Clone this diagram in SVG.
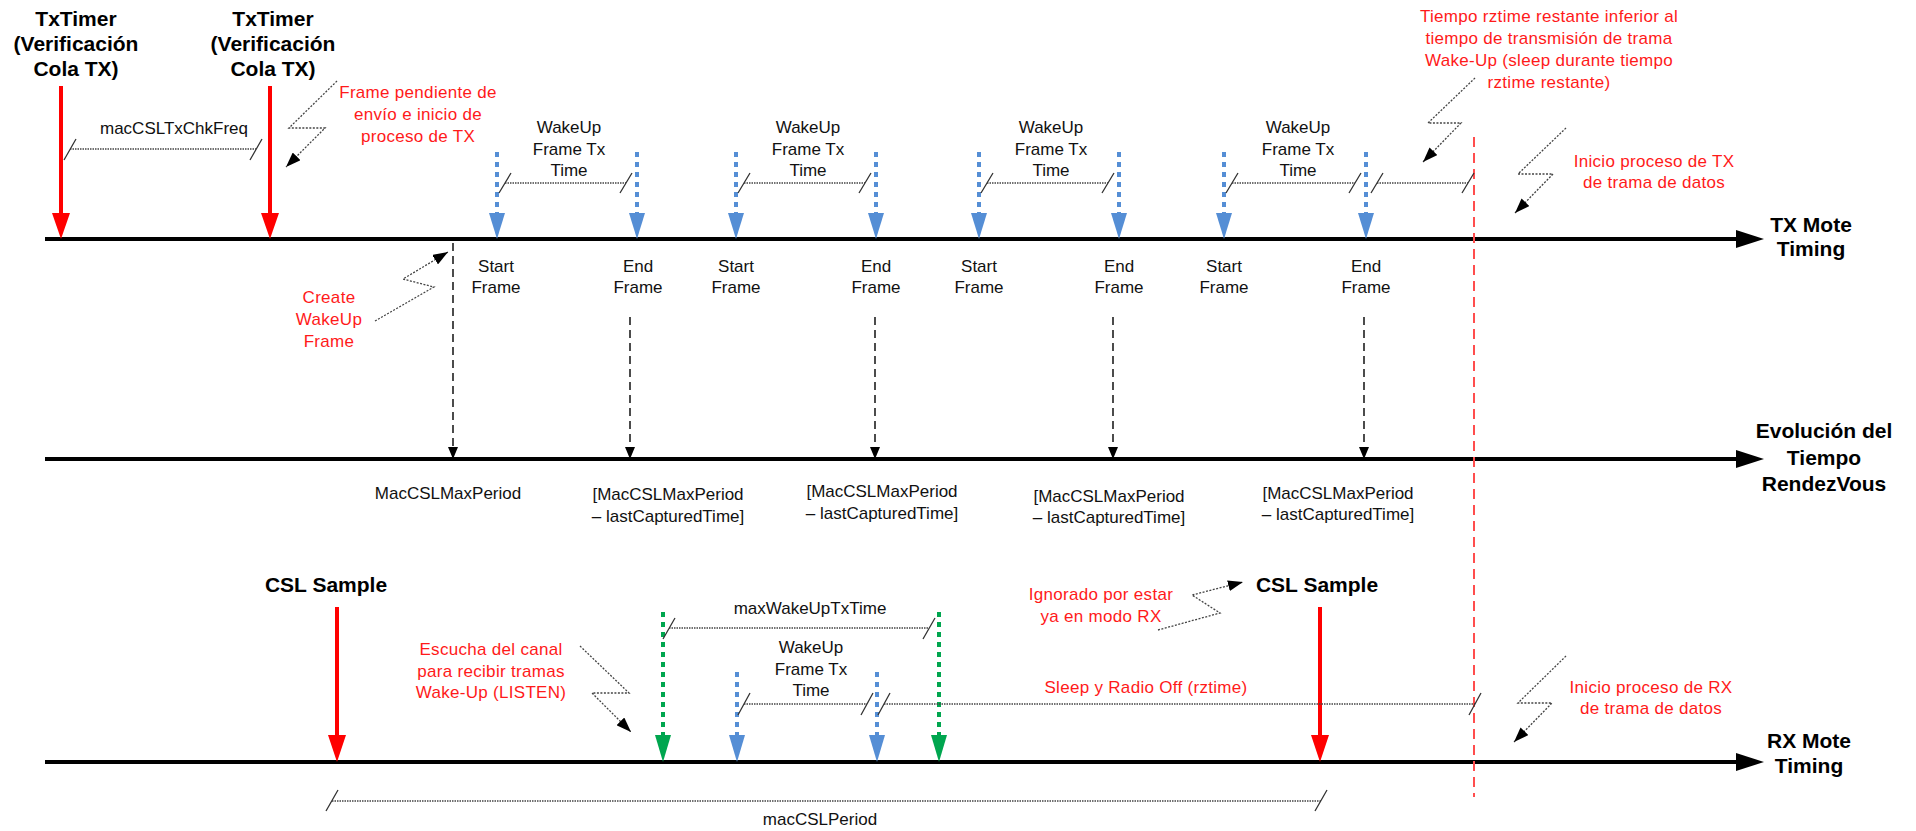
<svg xmlns="http://www.w3.org/2000/svg" width="1916" height="831" viewBox="0 0 1916 831">
  <style>
    text { font-family: "Liberation Sans", Arial, sans-serif; text-anchor: middle; }
    .bold { font-weight: bold; font-size: 21px; fill: #000; }
    .lbl { font-size: 17px; fill: #111; }
    .note { font-size: 17px; fill: #ff1a1a; letter-spacing: 0.3px; }
    .axis { stroke: #000; stroke-width: 4; fill: none; }
    .axhead { fill: #000; }
    .red { stroke: #ff0000; stroke-width: 4; fill: none; }
    .redhead { fill: #ff0000; }
    .blue { stroke: #558ed5; stroke-width: 4; stroke-dasharray: 5 5; fill: none; }
    .bluehead { fill: #558ed5; }
    .green { stroke: #00a64f; stroke-width: 4; stroke-dasharray: 5 5; fill: none; }
    .greenhead { fill: #00a64f; }
    .dim { stroke: #444; stroke-width: 1.3; stroke-dasharray: 1.5 1; fill: none; }
    .tick { stroke: #333; stroke-width: 1.3; fill: none; }
    .bolt { stroke: #444; stroke-width: 1.3; stroke-dasharray: 2 1.5; fill: none; marker-end: url(#boltHead); }
    .drop { stroke: #000; stroke-width: 1.4; stroke-dasharray: 8 5; fill: none; marker-end: url(#dropHead); }
    .limit { stroke: #ff4d4d; stroke-width: 2; stroke-dasharray: 10 6; fill: none; }
  </style>
  <defs>
    <marker id="boltHead" markerUnits="userSpaceOnUse" markerWidth="15" markerHeight="11" refX="15" refY="5.5" orient="auto">
      <path d="M0,0 L15,5.5 L0,11 z" fill="#000"/>
    </marker>
    <marker id="dropHead" markerUnits="userSpaceOnUse" markerWidth="12" markerHeight="10" refX="12" refY="5" orient="auto">
      <path d="M0,0 L12,5 L0,10 z" fill="#000"/>
    </marker>
  </defs>

  <rect width="1916" height="831" fill="#fff"/>

  <!-- time axes -->
  <g id="axis-tx">
    <line class="axis" x1="45" y1="239" x2="1742" y2="239"/>
    <polygon class="axhead" points="1736,230 1764,239 1736,248"/>
    <text class="bold" x="1811" y="232">TX Mote</text>
    <text class="bold" x="1811" y="256">Timing</text>
  </g>
  <g id="axis-rendezvous">
    <line class="axis" x1="45" y1="459" x2="1742" y2="459"/>
    <polygon class="axhead" points="1736,450 1764,459 1736,468"/>
    <text class="bold" x="1824" y="438">Evolución del</text>
    <text class="bold" x="1824" y="465">Tiempo</text>
    <text class="bold" x="1824" y="491">RendezVous</text>
  </g>
  <g id="axis-rx">
    <line class="axis" x1="45" y1="762" x2="1742" y2="762"/>
    <polygon class="axhead" points="1736,753 1764,762 1736,771"/>
    <text class="bold" x="1809" y="748">RX Mote</text>
    <text class="bold" x="1809" y="773">Timing</text>
  </g>

  <!-- TX timer checks -->
  <g id="txtimer-1">
    <line class="red" x1="61" y1="86" x2="61" y2="215"/>
    <polygon class="redhead" points="52,213 70,213 61,239"/>
    <text class="bold" x="76" y="26">TxTimer</text>
    <text class="bold" x="76" y="51">(Verificación</text>
    <text class="bold" x="76" y="76">Cola TX)</text>
  </g>
  <g id="txtimer-2">
    <line class="red" x1="270" y1="86" x2="270" y2="215"/>
    <polygon class="redhead" points="261,213 279,213 270,239"/>
    <text class="bold" x="273" y="26">TxTimer</text>
    <text class="bold" x="273" y="51">(Verificación</text>
    <text class="bold" x="273" y="76">Cola TX)</text>
  </g>

  <!-- wake-up frames sent by the TX mote -->
  <g id="tx-frame-1">
    <line class="blue" x1="497" y1="152" x2="497" y2="214"/>
    <polygon class="bluehead" points="489,213 505,213 497,239"/>
    <line class="blue" x1="637" y1="152" x2="637" y2="214"/>
    <polygon class="bluehead" points="629,213 645,213 637,239"/>
    <text class="lbl" x="569" y="133">WakeUp</text>
    <text class="lbl" x="569" y="155">Frame Tx</text>
    <text class="lbl" x="569" y="176">Time</text>
    <text class="lbl" x="496" y="272">Start</text>
    <text class="lbl" x="496" y="293">Frame</text>
    <text class="lbl" x="638" y="272">End</text>
    <text class="lbl" x="638" y="293">Frame</text>
  </g>
  <g id="tx-frame-2">
    <line class="blue" x1="736" y1="152" x2="736" y2="214"/>
    <polygon class="bluehead" points="728,213 744,213 736,239"/>
    <line class="blue" x1="876" y1="152" x2="876" y2="214"/>
    <polygon class="bluehead" points="868,213 884,213 876,239"/>
    <text class="lbl" x="808" y="133">WakeUp</text>
    <text class="lbl" x="808" y="155">Frame Tx</text>
    <text class="lbl" x="808" y="176">Time</text>
    <text class="lbl" x="736" y="272">Start</text>
    <text class="lbl" x="736" y="293">Frame</text>
    <text class="lbl" x="876" y="272">End</text>
    <text class="lbl" x="876" y="293">Frame</text>
  </g>
  <g id="tx-frame-3">
    <line class="blue" x1="979" y1="152" x2="979" y2="214"/>
    <polygon class="bluehead" points="971,213 987,213 979,239"/>
    <line class="blue" x1="1119" y1="152" x2="1119" y2="214"/>
    <polygon class="bluehead" points="1111,213 1127,213 1119,239"/>
    <text class="lbl" x="1051" y="133">WakeUp</text>
    <text class="lbl" x="1051" y="155">Frame Tx</text>
    <text class="lbl" x="1051" y="176">Time</text>
    <text class="lbl" x="979" y="272">Start</text>
    <text class="lbl" x="979" y="293">Frame</text>
    <text class="lbl" x="1119" y="272">End</text>
    <text class="lbl" x="1119" y="293">Frame</text>
  </g>
  <g id="tx-frame-4">
    <line class="blue" x1="1224" y1="152" x2="1224" y2="214"/>
    <polygon class="bluehead" points="1216,213 1232,213 1224,239"/>
    <line class="blue" x1="1366" y1="152" x2="1366" y2="214"/>
    <polygon class="bluehead" points="1358,213 1374,213 1366,239"/>
    <text class="lbl" x="1298" y="133">WakeUp</text>
    <text class="lbl" x="1298" y="155">Frame Tx</text>
    <text class="lbl" x="1298" y="176">Time</text>
    <text class="lbl" x="1224" y="272">Start</text>
    <text class="lbl" x="1224" y="293">Frame</text>
    <text class="lbl" x="1366" y="272">End</text>
    <text class="lbl" x="1366" y="293">Frame</text>
  </g>

  <!-- rendezvous time values -->
  <g id="rv-0"><text class="lbl" x="448" y="499">MacCSLMaxPeriod</text></g>
  <g id="rv-1">
    <text class="lbl" x="668" y="500">[MacCSLMaxPeriod</text>
    <text class="lbl" x="668" y="522">– lastCapturedTime]</text>
  </g>
  <g id="rv-2">
    <text class="lbl" x="882" y="497">[MacCSLMaxPeriod</text>
    <text class="lbl" x="882" y="519">– lastCapturedTime]</text>
  </g>
  <g id="rv-3">
    <text class="lbl" x="1109" y="502">[MacCSLMaxPeriod</text>
    <text class="lbl" x="1109" y="523">– lastCapturedTime]</text>
  </g>
  <g id="rv-4">
    <text class="lbl" x="1338" y="499">[MacCSLMaxPeriod</text>
    <text class="lbl" x="1338" y="520">– lastCapturedTime]</text>
  </g>

  <!-- RX mote events -->
  <g id="csl-sample-1">
    <line class="red" x1="337" y1="607" x2="337" y2="737"/>
    <polygon class="redhead" points="328,735 346,735 337,762"/>
    <text class="bold" x="326" y="592">CSL Sample</text>
  </g>
  <g id="csl-sample-2">
    <line class="red" x1="1320" y1="607" x2="1320" y2="737"/>
    <polygon class="redhead" points="1311,735 1329,735 1320,762"/>
    <text class="bold" x="1317" y="592">CSL Sample</text>
  </g>
  <g id="listen-window">
    <line class="green" x1="663" y1="612" x2="663" y2="737"/>
    <polygon class="greenhead" points="655,735 671,735 663,762"/>
    <line class="green" x1="939" y1="612" x2="939" y2="737"/>
    <polygon class="greenhead" points="931,735 947,735 939,762"/>
    <text class="lbl" x="810" y="614">maxWakeUpTxTime</text>
  </g>
  <g id="rx-frame">
    <line class="blue" x1="737" y1="672" x2="737" y2="737"/>
    <polygon class="bluehead" points="729,735 745,735 737,762"/>
    <line class="blue" x1="877" y1="672" x2="877" y2="737"/>
    <polygon class="bluehead" points="869,735 885,735 877,762"/>
    <text class="lbl" x="811" y="653">WakeUp</text>
    <text class="lbl" x="811" y="675">Frame Tx</text>
    <text class="lbl" x="811" y="696">Time</text>
  </g>
  <g id="csl-period"><text class="lbl" x="820" y="825">macCSLPeriod</text></g>
  <g id="chk-freq"><text class="lbl" x="174" y="134">macCSLTxChkFreq</text></g>

  <!-- red notes -->
  <g id="note-frame-pending">
    <text class="note" x="418" y="98">Frame pendiente de</text>
    <text class="note" x="418" y="120">envío e inicio de</text>
    <text class="note" x="418" y="142">proceso de TX</text>
  </g>
  <g id="note-rztime">
    <text class="note" x="1549" y="22">Tiempo rztime restante inferior al</text>
    <text class="note" x="1549" y="44">tiempo de transmisión de trama</text>
    <text class="note" x="1549" y="66">Wake-Up (sleep durante tiempo</text>
    <text class="note" x="1549" y="88">rztime restante)</text>
  </g>
  <g id="note-tx-start">
    <text class="note" x="1654" y="167">Inicio proceso de TX</text>
    <text class="note" x="1654" y="188">de trama de datos</text>
  </g>
  <g id="note-create">
    <text class="note" x="329" y="303">Create</text>
    <text class="note" x="329" y="325">WakeUp</text>
    <text class="note" x="329" y="347">Frame</text>
  </g>
  <g id="note-listen">
    <text class="note" x="491" y="655">Escucha del canal</text>
    <text class="note" x="491" y="677">para recibir tramas</text>
    <text class="note" x="491" y="698">Wake-Up (LISTEN)</text>
  </g>
  <g id="note-ignored">
    <text class="note" x="1101" y="600">Ignorado por estar</text>
    <text class="note" x="1101" y="622">ya en modo RX</text>
  </g>
  <g id="note-sleep"><text class="note" x="1146" y="693">Sleep y Radio Off (rztime)</text></g>
  <g id="note-rx-start">
    <text class="note" x="1651" y="693">Inicio proceso de RX</text>
    <text class="note" x="1651" y="714">de trama de datos</text>
  </g>

  <!-- connectors: boundary line, drop arrows, dimensions and callouts -->
  <g id="connectors">
    <line class="limit" x1="1474" y1="137" x2="1474" y2="797"/>

    <line class="drop" x1="453" y1="243" x2="453" y2="459"/>
    <line class="drop" x1="630" y1="317" x2="630" y2="459"/>
    <line class="drop" x1="875" y1="317" x2="875" y2="459"/>
    <line class="drop" x1="1113" y1="317" x2="1113" y2="459"/>
    <line class="drop" x1="1364" y1="317" x2="1364" y2="459"/>

    <!-- dimension lines -->
    <line class="dim" x1="70" y1="149" x2="256" y2="149"/>
    <path class="tick" d="M64,160 L76,139 M250,160 L262,139"/>

    <line class="dim" x1="505" y1="183" x2="626" y2="183"/>
    <path class="tick" d="M499,193 L511,173 M620,193 L632,173"/>
    <line class="dim" x1="744" y1="183" x2="865" y2="183"/>
    <path class="tick" d="M738,193 L750,173 M859,193 L871,173"/>
    <line class="dim" x1="987" y1="183" x2="1108" y2="183"/>
    <path class="tick" d="M981,193 L993,173 M1102,193 L1114,173"/>
    <line class="dim" x1="1232" y1="183" x2="1355" y2="183"/>
    <path class="tick" d="M1226,193 L1238,173 M1349,193 L1361,173"/>
    <line class="dim" x1="1377" y1="183" x2="1468" y2="183"/>
    <path class="tick" d="M1371,193 L1383,173 M1462,193 L1474,173"/>

    <line class="dim" x1="669" y1="628" x2="929" y2="628"/>
    <path class="tick" d="M663,639 L675,618 M923,639 L935,618"/>
    <line class="dim" x1="744" y1="704" x2="867" y2="704"/>
    <path class="tick" d="M738,715 L750,693 M861,715 L873,693"/>
    <line class="dim" x1="884" y1="704" x2="1475" y2="704"/>
    <path class="tick" d="M878,715 L890,693 M1469,715 L1481,693"/>
    <line class="dim" x1="332" y1="801" x2="1321" y2="801"/>
    <path class="tick" d="M326,811 L338,790 M1315,811 L1327,790"/>

    <!-- callout bolts -->
    <path class="bolt" d="M337,81 L289,128 L325,128 L286,167"/>
    <path class="bolt" d="M1475,78 L1428,123 L1461,123 L1423,162"/>
    <path class="bolt" d="M1566,128 L1518,174 L1553,174 L1515,213"/>
    <path class="bolt" d="M375,321 L434,287 L403,279 L448,252"/>
    <path class="bolt" d="M580,646 L629,693 L592,693 L631,732"/>
    <path class="bolt" d="M1158,630 L1220,613 L1192,595 L1243,582"/>
    <path class="bolt" d="M1566,656 L1518,703 L1552,703 L1514,742"/>
  </g>
</svg>
